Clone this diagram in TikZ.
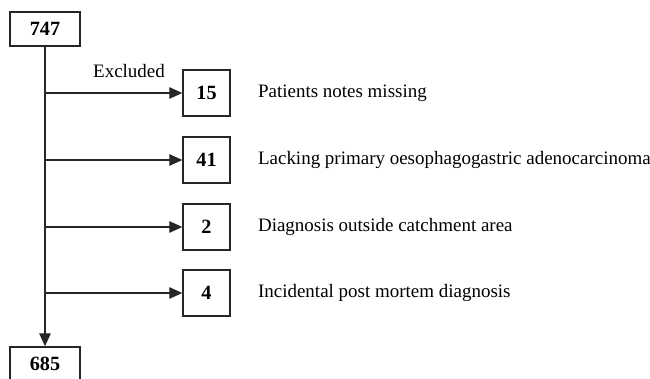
\documentclass[tikz,border=0pt]{standalone}
\usepackage{fontspec}
\setmainfont{Liberation Serif}
\usetikzlibrary{arrows.meta,positioning}
\tikzset{
  cbox/.style={draw=black!85,line width=0.8pt,minimum width=0.94cm,minimum height=0.92cm,inner sep=0pt,font=\fontsize{11.5}{13}\selectfont\bfseries},
  tbox/.style={cbox,minimum width=1.4cm,minimum height=0.68cm},
  elabel/.style={inner sep=0pt,font=\fontsize{10.8}{13}\selectfont},
  earr/.style={-{Triangle[length=2.6mm,width=2.3mm]},line width=0.7pt,draw=black!85}
}

\begin{document}
\begin{tikzpicture}
  \useasboundingbox (0,0) rectangle (13,7.56);
  \node[tbox] (n747) at (0.9,6.98) {747};
  \node[tbox] (n685) at (0.9,0.28) {685};
  \node[cbox] (n15) at (4.13,5.70) {15};
  \node[cbox] (n41) at (4.13,4.36) {41};
  \node[cbox] (n2) at (4.13,3.02) {2};
  \node[cbox] (n4) at (4.13,1.70) {4};
  \node[elabel,right=0.54cm of n15] (l15) {Patients notes missing};
  \node[elabel,right=0.54cm of n41] (l41) {Lacking primary oesophagogastric adenocarcinoma};
  \node[elabel,right=0.54cm of n2] (l2) {Diagnosis outside catchment area};
  \node[elabel,right=0.54cm of n4] (l4) {Incidental post mortem diagnosis};
  \node[elabel,anchor=base] (excl) at (2.58,6.0) {Excluded};
  \draw[earr] (n747) -- (n685);
  \draw[earr] (n747.south |- n15) -- (n15);
  \draw[earr] (n747.south |- n41) -- (n41);
  \draw[earr] (n747.south |- n2) -- (n2);
  \draw[earr] (n747.south |- n4) -- (n4);
\end{tikzpicture}
\end{document}
